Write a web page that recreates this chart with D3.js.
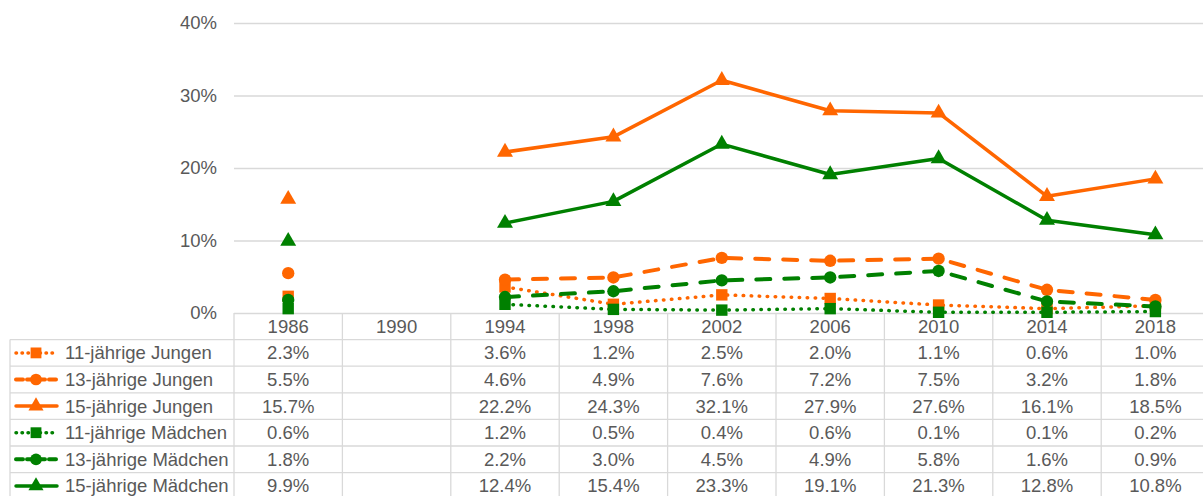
<!DOCTYPE html>
<html>
<head>
<meta charset="utf-8">
<style>
  body { margin: 0; background: #fff; }
  svg { display: block; font-family: "Liberation Sans", Arial, sans-serif; }
</style>
</head>
<body>
<div id="chart"></div>
<script src="https://cdn.jsdelivr.net/npm/d3@7"></script>
<script>
// data (percent)
var years = ["1986", "1990", "1994", "1998", "2002", "2006", "2010", "2014", "2018"];
var jungen11 = [2.3, null, 3.6, 1.2, 2.5, 2.0, 1.1, 0.6, 1.0];
var jungen13 = [5.5, null, 4.6, 4.9, 7.6, 7.2, 7.5, 3.2, 1.8];
var jungen15 = [15.7, null, 22.2, 24.3, 32.1, 27.9, 27.6, 16.1, 18.5];
var maedchen11 = [0.6, null, 1.2, 0.5, 0.4, 0.6, 0.1, 0.1, 0.2];
var maedchen13 = [1.8, null, 2.2, 3.0, 4.5, 4.9, 5.8, 1.6, 0.9];
var maedchen15 = [9.9, null, 12.4, 15.4, 23.3, 19.1, 21.3, 12.8, 10.8];
var yTicks = [0, 10, 20, 30, 40];

var orange = "#FF6600", green = "#008000";
var dotted = { dash: "0.5,7.5", key: "0.5,5.5", w: 3.5 },
  dashed = { dash: "14,14", key: "7,4", w: 4 },
  solid = { dash: null, key: null, w: 3.5 };
var series = [
  { name: "11-jährige Jungen", values: jungen11, color: orange, sym: d3.symbolSquare, style: dotted, size: 130 },
  { name: "13-jährige Jungen", values: jungen13, color: orange, sym: d3.symbolCircle, style: dashed, size: 120 },
  { name: "15-jährige Jungen", values: jungen15, color: orange, sym: d3.symbolTriangle, style: solid, size: 110 },
  { name: "11-jährige Mädchen", values: maedchen11, color: green, sym: d3.symbolSquare, style: dotted, size: 130 },
  { name: "13-jährige Mädchen", values: maedchen13, color: green, sym: d3.symbolCircle, style: dashed, size: 120 },
  { name: "15-jährige Mädchen", values: maedchen15, color: green, sym: d3.symbolTriangle, style: solid, size: 110 }
];

var width = 1203, height = 496;
var plotLeft = 234, plotRight = 1209.6, plotTop = 23, plotBottom = 313;
var rowH = 26.6, tableLeft = 10, fontSize = 18.5;
var grid = "#d9d9d9", textCol = "#595959";

var svg = d3.select("#chart").append("svg")
  .attr("width", width).attr("height", height);

var x = d3.scaleBand().domain(years).range([plotLeft, plotRight]);
var xc = function(d) { return x(d) + x.bandwidth() / 2; };
var y = d3.scaleLinear().domain([0, 40]).range([plotBottom, plotTop]);

// gridlines
svg.append("g").selectAll("line").data(yTicks).enter().append("line")
  .attr("x1", plotLeft).attr("x2", width)
  .attr("y1", function(d) { return y(d) + 0.5; })
  .attr("y2", function(d) { return y(d) + 0.5; })
  .attr("stroke", grid).attr("stroke-width", 1.3);

svg.append("g").selectAll("text").data(yTicks).enter().append("text")
  .attr("x", 217).attr("y", function(d) { return y(d); })
  .attr("dy", "0.35em").attr("text-anchor", "end")
  .attr("font-size", fontSize).attr("fill", textCol)
  .text(function(d) { return d + "%"; });

// data table
var table = svg.append("g");
var tableTop = plotBottom + rowH;
d3.range(series.length + 1).forEach(function(i) {
  table.append("line")
    .attr("x1", tableLeft).attr("x2", width)
    .attr("y1", tableTop + i * rowH).attr("y2", tableTop + i * rowH)
    .attr("stroke", grid).attr("stroke-width", 1.3);
});
table.selectAll("line.v").data(d3.range(years.length + 1)).enter().append("line")
  .attr("class", "v")
  .attr("x1", function(i) { return plotLeft + i * x.bandwidth(); })
  .attr("x2", function(i) { return plotLeft + i * x.bandwidth(); })
  .attr("y1", plotBottom).attr("y2", height)
  .attr("stroke", grid).attr("stroke-width", 1.3);
table.append("line")
  .attr("x1", tableLeft).attr("x2", tableLeft)
  .attr("y1", tableTop).attr("y2", height)
  .attr("stroke", grid).attr("stroke-width", 1.3);

// year header
table.selectAll("text.year").data(years).enter().append("text")
  .attr("x", xc).attr("y", plotBottom + rowH / 2)
  .attr("dy", "0.35em").attr("text-anchor", "middle")
  .attr("font-size", fontSize).attr("fill", textCol)
  .text(function(d) { return d; });

// rows: legend key + values
series.forEach(function(s, i) {
  var cy = tableTop + i * rowH + rowH / 2;
  var row = table.append("g");
  var key = row.append("line")
    .attr("x1", 16).attr("x2", 57).attr("y1", cy).attr("y2", cy)
    .attr("stroke", s.color).attr("stroke-width", s.style.w)
    .attr("stroke-linecap", "round");
  if (s.style.key) key.attr("stroke-dasharray", s.style.key);
  row.append("path")
    .attr("d", d3.symbol().type(s.sym).size(s.size * 0.9)())
    .attr("transform", "translate(36," + cy + ")")
    .attr("fill", s.color);
  row.append("text")
    .attr("x", 65).attr("y", cy).attr("dy", "0.35em")
    .attr("font-size", fontSize).attr("fill", textCol)
    .text(s.name);
  row.selectAll("text.val").data(s.values).enter().append("text")
    .attr("x", function(d, j) { return xc(years[j]); })
    .attr("y", cy).attr("dy", "0.35em").attr("text-anchor", "middle")
    .attr("font-size", fontSize).attr("fill", textCol)
    .text(function(d) { return d == null ? "" : d.toFixed(1) + "%"; });
});

// lines and markers
var line = d3.line()
  .defined(function(d) { return d != null; })
  .x(function(d, j) { return xc(years[j]); })
  .y(function(d) { return y(d); });

series.forEach(function(s) {
  var g = svg.append("g");
  var p = g.append("path")
    .attr("d", line(s.values))
    .attr("fill", "none").attr("stroke", s.color)
    .attr("stroke-width", s.style.w)
    .attr("stroke-linecap", "round").attr("stroke-linejoin", "round");
  if (s.style.dash) p.attr("stroke-dasharray", s.style.dash);
  s.values.forEach(function(d, j) {
    if (d == null) return;
    g.append("path")
      .attr("d", d3.symbol().type(s.sym).size(s.size)())
      .attr("transform", "translate(" + xc(years[j]) + "," + y(d) + ")")
      .attr("fill", s.color);
  });
});
</script>
</body>
</html>
